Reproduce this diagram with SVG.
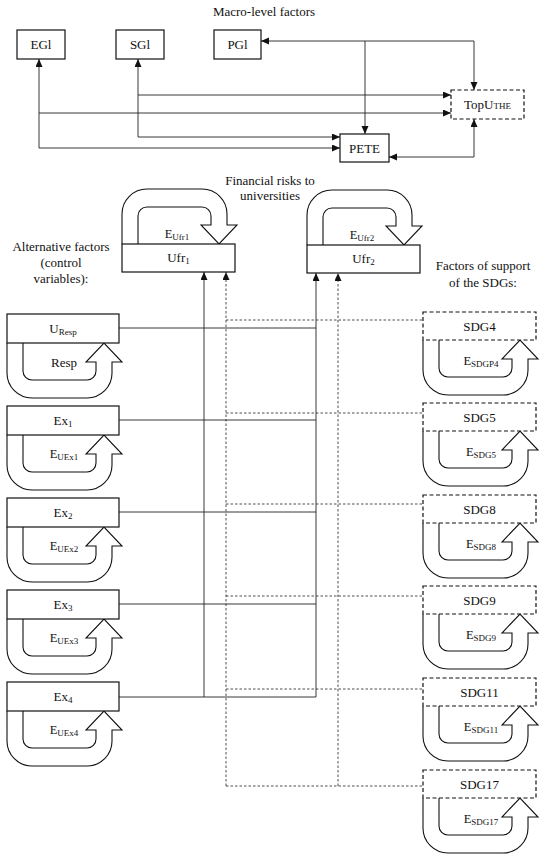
<svg xmlns="http://www.w3.org/2000/svg" width="550" height="859" viewBox="0 0 550 859">
<style>
text{font-family:"Liberation Serif","Times New Roman",serif;fill:#111;text-anchor:middle;font-size:13px}
.sub{font-size:9px}
.el{font-size:12.5px}
.box{fill:#fff;stroke:#111;stroke-width:1.2}
.dbox{fill:#fff;stroke:#111;stroke-width:1.2;stroke-dasharray:4 2.5}
.loop{fill:#fff;stroke:#111;stroke-width:1.1}
.ln{fill:none;stroke:#222;stroke-width:0.9}
.dl{fill:none;stroke:#222;stroke-width:0.8;stroke-dasharray:2.5 2}
</style>
<defs>
<marker id="ar" markerUnits="userSpaceOnUse" markerWidth="9" markerHeight="8" refX="8" refY="3.5" orient="auto-start-reverse"><path d="M0,0 L8,3.5 L0,7 z" fill="#111"/></marker>
<path id="loop" d="M0,0 V30 A25,25 0 0 0 25,55 H80 A25,25 0 0 0 105,30 V19 H115 L97,0 L79,19 H89 V28 A9,9 0 0 1 80,37 H25 A9,9 0 0 1 16,28 V0"/>
</defs>

<g id="titles">
<text x="264" y="16">Macro-level factors</text>
<text x="270" y="185">Financial risks to</text>
<text x="270" y="200">universities</text>
<text x="61" y="251">Alternative factors</text>
<text x="61" y="267">(control</text>
<text x="61" y="283">variables):</text>
<text x="483" y="270">Factors of support</text>
<text x="483" y="287">of the SDGs:</text>
</g>

<g id="connectors">
<path class="ln" d="M39,59 V148 H340" marker-start="url(#ar)" marker-end="url(#ar)"/>
<path class="ln" d="M39,113 H451" marker-end="url(#ar)"/>
<path class="ln" d="M138,59 V137 H340" marker-start="url(#ar)" marker-end="url(#ar)"/>
<path class="ln" d="M138,95 H451" marker-end="url(#ar)"/>
<path class="ln" d="M261,41 H474 V90" marker-start="url(#ar)" marker-end="url(#ar)"/>
<path class="ln" d="M365,41 V134" marker-end="url(#ar)"/>
<path class="ln" d="M389,157 H474 V119" marker-start="url(#ar)" marker-end="url(#ar)"/>

<path class="ln" d="M204,697 V272" marker-end="url(#ar)"/>
<path class="ln" d="M316,697 V273" marker-end="url(#ar)"/>
<path class="ln" d="M119,328 H316 M119,420 H316 M119,512 H316 M119,604 H316 M119,697 H316"/>
<path class="dl" d="M226,786 V272" marker-end="url(#ar)"/>
<path class="dl" d="M338,786 V273" marker-end="url(#ar)"/>
<path class="dl" d="M226,320 H423 M226,413 H423 M226,504 H423 M226,596 H423 M226,689 H423 M226,786 H423"/>
</g>

<g id="EGl"><rect class="box" x="17" y="30" width="48" height="29"/><text x="41" y="49">EGl</text></g>
<g id="SGl"><rect class="box" x="116" y="30" width="48" height="29"/><text x="140" y="49">SGl</text></g>
<g id="PGl"><rect class="box" x="214" y="30" width="47" height="29"/><text x="237.5" y="49">PGl</text></g>
<g id="TopU"><rect class="dbox" x="451" y="90" width="73" height="29"/><text x="487.5" y="109">TopU<tspan class="sub">THE</tspan></text></g>
<g id="PETE"><rect class="box" x="340" y="134" width="49" height="28"/><text x="364.5" y="152.5">PETE</text></g>

<g id="Ufr1"><use href="#loop" class="loop" transform="translate(122,244) scale(1,-1)"/><rect class="box" x="122" y="244" width="113" height="28"/><text x="178.5" y="262">Ufr<tspan class="sub" dy="2">1</tspan></text><text class="el" x="177" y="238">E<tspan class="sub" dy="1.5">Ufr1</tspan></text></g>
<g id="Ufr2"><use href="#loop" class="loop" transform="translate(307,245) scale(1,-1)"/><rect class="box" x="307" y="245" width="113" height="28"/><text x="363.5" y="263">Ufr<tspan class="sub" dy="2">2</tspan></text><text class="el" x="362" y="239">E<tspan class="sub" dy="1.5">Ufr2</tspan></text></g>

<g id="UResp"><use href="#loop" class="loop" transform="translate(7,343)"/><rect class="box" x="7" y="314" width="112" height="29"/><text x="63" y="333">U<tspan class="sub" dy="1.5">Resp</tspan></text><text x="64" y="367">Resp</text></g>
<g id="Ex1"><use href="#loop" class="loop" transform="translate(7,435)"/><rect class="box" x="7" y="406" width="112" height="29"/><text x="63" y="425">Ex<tspan class="sub" dy="2">1</tspan></text><text class="el" x="64" y="458">E<tspan class="sub" dy="1.5">UEx1</tspan></text></g>
<g id="Ex2"><use href="#loop" class="loop" transform="translate(7,527)"/><rect class="box" x="7" y="498" width="112" height="29"/><text x="63" y="517">Ex<tspan class="sub" dy="2">2</tspan></text><text class="el" x="64" y="550">E<tspan class="sub" dy="1.5">UEx2</tspan></text></g>
<g id="Ex3"><use href="#loop" class="loop" transform="translate(7,619)"/><rect class="box" x="7" y="590" width="112" height="29"/><text x="63" y="609">Ex<tspan class="sub" dy="2">3</tspan></text><text class="el" x="64" y="642">E<tspan class="sub" dy="1.5">UEx3</tspan></text></g>
<g id="Ex4"><use href="#loop" class="loop" transform="translate(7,711)"/><rect class="box" x="7" y="682" width="112" height="29"/><text x="63" y="701">Ex<tspan class="sub" dy="2">4</tspan></text><text class="el" x="64" y="734">E<tspan class="sub" dy="1.5">UEx4</tspan></text></g>

<g id="SDG4"><use href="#loop" class="loop" transform="translate(423,340)"/><rect class="dbox" x="423" y="312" width="113" height="28"/><text x="479.5" y="330.5">SDG4</text><text class="el" x="481" y="365">E<tspan class="sub" dy="1.5">SDGP4</tspan></text></g>
<g id="SDG5"><use href="#loop" class="loop" transform="translate(423,431)"/><rect class="dbox" x="423" y="403" width="113" height="28"/><text x="479.5" y="421.5">SDG5</text><text class="el" x="481" y="456">E<tspan class="sub" dy="1.5">SDG5</tspan></text></g>
<g id="SDG8"><use href="#loop" class="loop" transform="translate(423,523)"/><rect class="dbox" x="423" y="495" width="113" height="28"/><text x="479.5" y="513.5">SDG8</text><text class="el" x="481" y="548">E<tspan class="sub" dy="1.5">SDG8</tspan></text></g>
<g id="SDG9"><use href="#loop" class="loop" transform="translate(423,614)"/><rect class="dbox" x="423" y="586" width="113" height="28"/><text x="479.5" y="604.5">SDG9</text><text class="el" x="481" y="639">E<tspan class="sub" dy="1.5">SDG9</tspan></text></g>
<g id="SDG11"><use href="#loop" class="loop" transform="translate(423,706)"/><rect class="dbox" x="423" y="678" width="113" height="28"/><text x="479.5" y="696.5">SDG11</text><text class="el" x="481" y="731">E<tspan class="sub" dy="1.5">SDG11</tspan></text></g>
<g id="SDG17"><use href="#loop" class="loop" transform="translate(423,798)"/><rect class="dbox" x="423" y="770" width="113" height="28"/><text x="479.5" y="788.5">SDG17</text><text class="el" x="481" y="823">E<tspan class="sub" dy="1.5">SDG17</tspan></text></g>
</svg>
